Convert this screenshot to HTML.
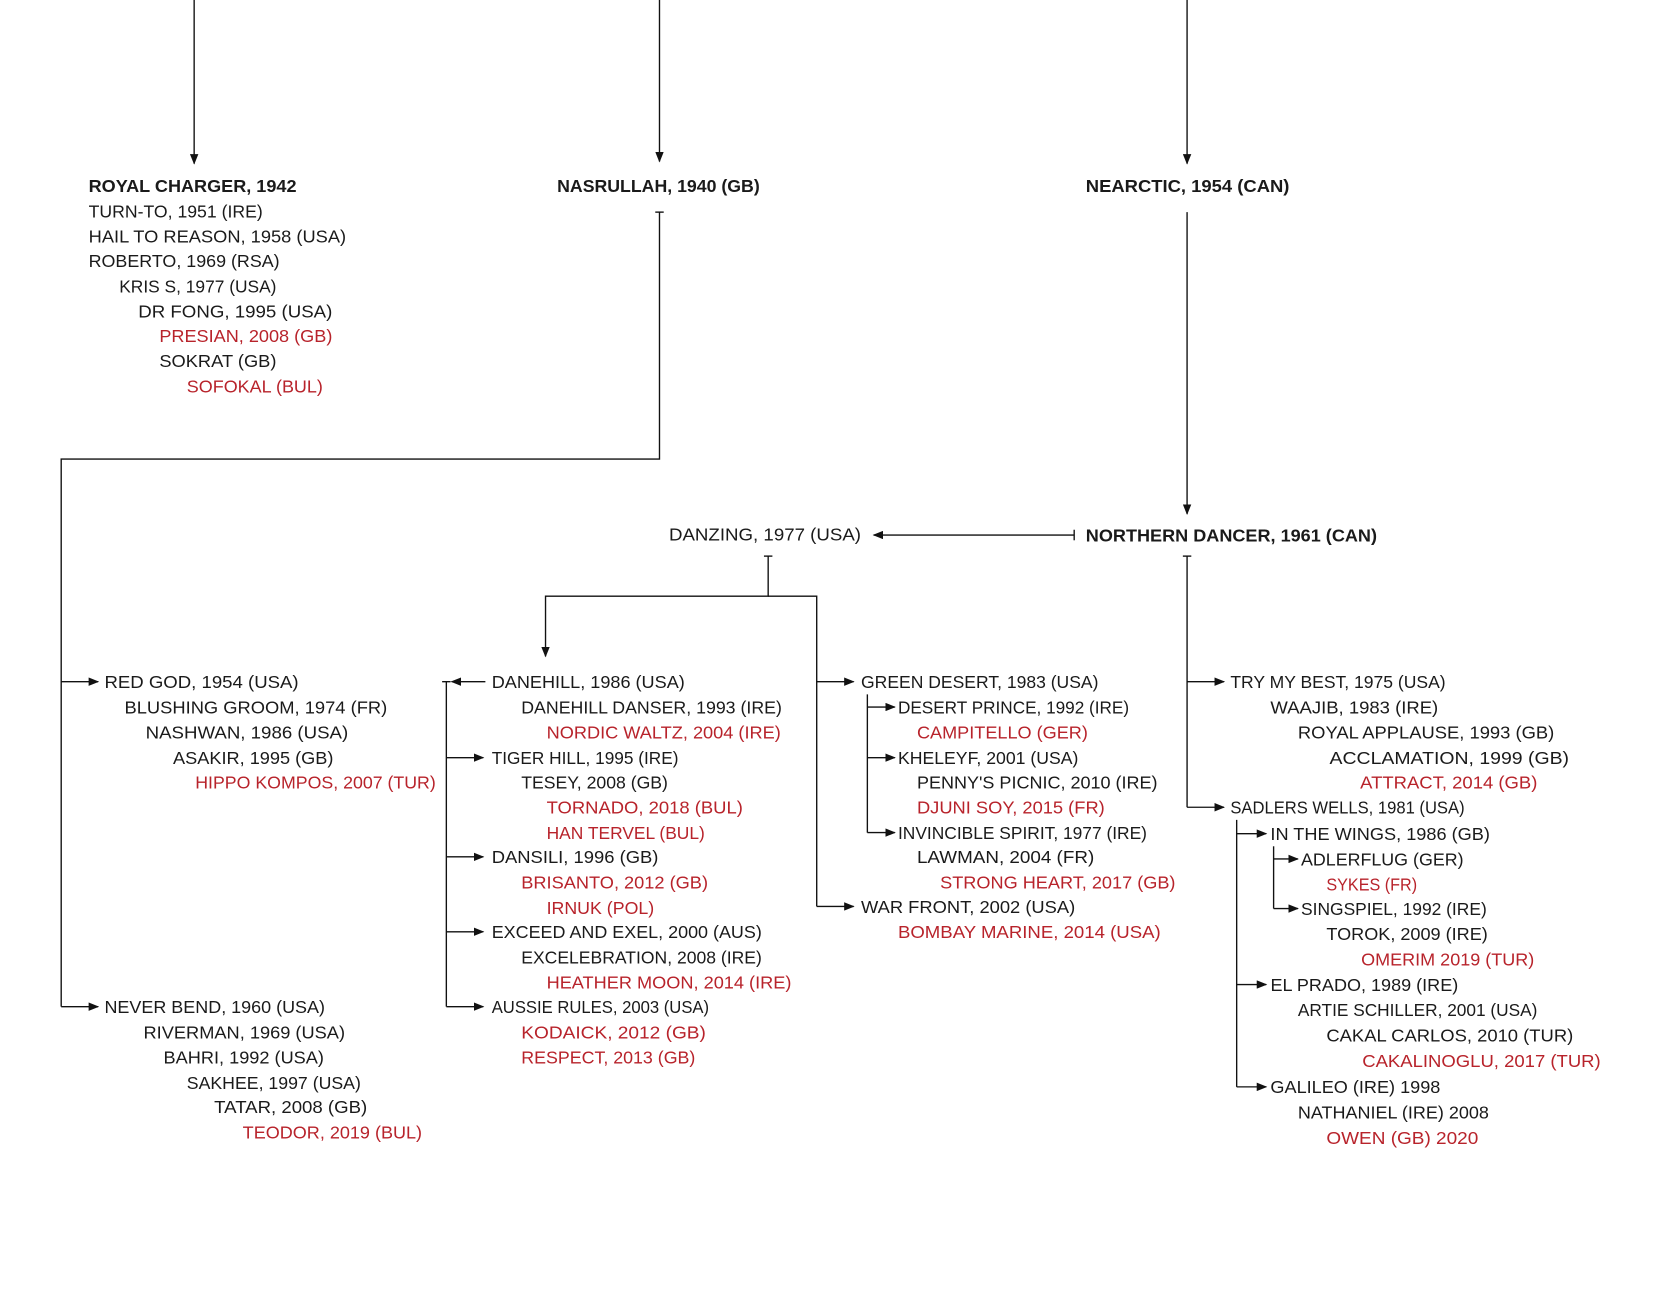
<!DOCTYPE html>
<html><head><meta charset="utf-8"><style>
html,body{margin:0;padding:0;background:#fff;}
svg{display:block}
text{font-family:"Liberation Sans",sans-serif;font-size:17px;fill:#1a1a1a;}
.b{font-weight:bold;}
.r{fill:#b8232b;}
line,polyline{stroke:#111;stroke-width:1.3;fill:none}
</style></head><body>
<svg width="1654" height="1299" viewBox="0 0 1567.5 1231" xmlns="http://www.w3.org/2000/svg">
<defs><marker id="a" markerWidth="10" markerHeight="8" refX="9" refY="4" orient="auto" markerUnits="userSpaceOnUse"><path d="M0,0 L10,4 L0,8 z" fill="#111"/></marker></defs>
<g>
<line x1="184" y1="0" x2="184" y2="155" marker-end="url(#a)"/>
<line x1="625" y1="0" x2="625" y2="153" marker-end="url(#a)"/>
<line x1="1125" y1="0" x2="1125" y2="155" marker-end="url(#a)"/>
<line x1="621" y1="201" x2="629" y2="201"/>
<polyline points="625,201 625,435 58,435 58,954"/>
<line x1="58" y1="646" x2="93" y2="646" marker-end="url(#a)"/>
<line x1="58" y1="954" x2="93" y2="954" marker-end="url(#a)"/>
<line x1="1125" y1="201" x2="1125" y2="487" marker-end="url(#a)"/>
<line x1="1018" y1="502" x2="1018" y2="512"/>
<line x1="1018" y1="507" x2="828" y2="507" marker-end="url(#a)"/>
<line x1="724" y1="527" x2="732" y2="527"/>
<polyline points="728,527 728,565 517,565 517,622" marker-end="url(#a)"/>
<polyline points="728,565 774,565 774,859"/>
<line x1="774" y1="646" x2="809" y2="646" marker-end="url(#a)"/>
<line x1="774" y1="859" x2="809" y2="859" marker-end="url(#a)"/>
<line x1="423" y1="646" x2="423" y2="954"/>
<line x1="419" y1="646" x2="427" y2="646"/>
<line x1="460" y1="646" x2="428" y2="646" marker-end="url(#a)"/>
<line x1="423" y1="718" x2="458" y2="718" marker-end="url(#a)"/>
<line x1="423" y1="812" x2="458" y2="812" marker-end="url(#a)"/>
<line x1="423" y1="883" x2="458" y2="883" marker-end="url(#a)"/>
<line x1="423" y1="954" x2="458" y2="954" marker-end="url(#a)"/>
<line x1="822" y1="658" x2="822" y2="789"/>
<line x1="822" y1="670" x2="848" y2="670" marker-end="url(#a)"/>
<line x1="822" y1="718" x2="848" y2="718" marker-end="url(#a)"/>
<line x1="822" y1="789" x2="848" y2="789" marker-end="url(#a)"/>
<line x1="1121" y1="527" x2="1129" y2="527"/>
<line x1="1125" y1="527" x2="1125" y2="765"/>
<line x1="1125" y1="646" x2="1160" y2="646" marker-end="url(#a)"/>
<line x1="1125" y1="765" x2="1160" y2="765" marker-end="url(#a)"/>
<line x1="1172" y1="777" x2="1172" y2="1030"/>
<line x1="1172" y1="790" x2="1200" y2="790" marker-end="url(#a)"/>
<line x1="1172" y1="933" x2="1200" y2="933" marker-end="url(#a)"/>
<line x1="1172" y1="1030" x2="1200" y2="1030" marker-end="url(#a)"/>
<line x1="1207" y1="802" x2="1207" y2="861"/>
<line x1="1207" y1="814" x2="1230" y2="814" marker-end="url(#a)"/>
<line x1="1207" y1="861" x2="1230" y2="861" marker-end="url(#a)"/>
</g>
<g>
<text class="b" x="84" y="182" textLength="197" lengthAdjust="spacingAndGlyphs">ROYAL CHARGER, 1942</text>
<text x="84" y="206" textLength="165" lengthAdjust="spacingAndGlyphs">TURN-TO, 1951 (IRE)</text>
<text x="84" y="230" textLength="244" lengthAdjust="spacingAndGlyphs">HAIL TO REASON, 1958 (USA)</text>
<text x="84" y="253" textLength="181" lengthAdjust="spacingAndGlyphs">ROBERTO, 1969 (RSA)</text>
<text x="113" y="277" textLength="149" lengthAdjust="spacingAndGlyphs">KRIS S, 1977 (USA)</text>
<text x="131" y="301" textLength="184" lengthAdjust="spacingAndGlyphs">DR FONG, 1995 (USA)</text>
<text class="r" x="151" y="324" textLength="164" lengthAdjust="spacingAndGlyphs">PRESIAN, 2008 (GB)</text>
<text x="151" y="348" textLength="111" lengthAdjust="spacingAndGlyphs">SOKRAT (GB)</text>
<text class="r" x="177" y="372" textLength="129" lengthAdjust="spacingAndGlyphs">SOFOKAL (BUL)</text>
<text class="b" x="528" y="182" textLength="192" lengthAdjust="spacingAndGlyphs">NASRULLAH, 1940 (GB)</text>
<text class="b" x="1029" y="182" textLength="193" lengthAdjust="spacingAndGlyphs">NEARCTIC, 1954 (CAN)</text>
<text class="b" x="1029" y="513" textLength="276" lengthAdjust="spacingAndGlyphs">NORTHERN DANCER, 1961 (CAN)</text>
<text x="634" y="512" textLength="182" lengthAdjust="spacingAndGlyphs">DANZING, 1977 (USA)</text>

<text x="99" y="652" textLength="184" lengthAdjust="spacingAndGlyphs">RED GOD, 1954 (USA)</text>
<text x="118" y="676" textLength="249" lengthAdjust="spacingAndGlyphs">BLUSHING GROOM, 1974 (FR)</text>
<text x="138" y="700" textLength="192" lengthAdjust="spacingAndGlyphs">NASHWAN, 1986 (USA)</text>
<text x="164" y="724" textLength="152" lengthAdjust="spacingAndGlyphs">ASAKIR, 1995 (GB)</text>
<text class="r" x="185" y="747" textLength="228" lengthAdjust="spacingAndGlyphs">HIPPO KOMPOS, 2007 (TUR)</text>
<text x="99" y="960" textLength="209" lengthAdjust="spacingAndGlyphs">NEVER BEND, 1960 (USA)</text>
<text x="136" y="984" textLength="191" lengthAdjust="spacingAndGlyphs">RIVERMAN, 1969 (USA)</text>
<text x="155" y="1008" textLength="152" lengthAdjust="spacingAndGlyphs">BAHRI, 1992 (USA)</text>
<text x="177" y="1032" textLength="165" lengthAdjust="spacingAndGlyphs">SAKHEE, 1997 (USA)</text>
<text x="203" y="1055" textLength="145" lengthAdjust="spacingAndGlyphs">TATAR, 2008 (GB)</text>
<text class="r" x="230" y="1079" textLength="170" lengthAdjust="spacingAndGlyphs">TEODOR, 2019 (BUL)</text>

<text x="466" y="652" textLength="183" lengthAdjust="spacingAndGlyphs">DANEHILL, 1986 (USA)</text>
<text x="494" y="676" textLength="247" lengthAdjust="spacingAndGlyphs">DANEHILL DANSER, 1993 (IRE)</text>
<text class="r" x="518" y="700" textLength="222" lengthAdjust="spacingAndGlyphs">NORDIC WALTZ, 2004 (IRE)</text>
<text x="466" y="724" textLength="177" lengthAdjust="spacingAndGlyphs">TIGER HILL, 1995 (IRE)</text>
<text x="494" y="747" textLength="139" lengthAdjust="spacingAndGlyphs">TESEY, 2008 (GB)</text>
<text class="r" x="518" y="771" textLength="186" lengthAdjust="spacingAndGlyphs">TORNADO, 2018 (BUL)</text>
<text class="r" x="518" y="795" textLength="150" lengthAdjust="spacingAndGlyphs">HAN TERVEL (BUL)</text>
<text x="466" y="818" textLength="158" lengthAdjust="spacingAndGlyphs">DANSILI, 1996 (GB)</text>
<text class="r" x="494" y="842" textLength="177" lengthAdjust="spacingAndGlyphs">BRISANTO, 2012 (GB)</text>
<text class="r" x="518" y="866" textLength="102" lengthAdjust="spacingAndGlyphs">IRNUK (POL)</text>
<text x="466" y="889" textLength="256" lengthAdjust="spacingAndGlyphs">EXCEED AND EXEL, 2000 (AUS)</text>
<text x="494" y="913" textLength="228" lengthAdjust="spacingAndGlyphs">EXCELEBRATION, 2008 (IRE)</text>
<text class="r" x="518" y="937" textLength="232" lengthAdjust="spacingAndGlyphs">HEATHER MOON, 2014 (IRE)</text>
<text x="466" y="960" textLength="206" lengthAdjust="spacingAndGlyphs">AUSSIE RULES, 2003 (USA)</text>
<text class="r" x="494" y="984" textLength="175" lengthAdjust="spacingAndGlyphs">KODAICK, 2012 (GB)</text>
<text class="r" x="494" y="1008" textLength="165" lengthAdjust="spacingAndGlyphs">RESPECT, 2013 (GB)</text>

<text x="816" y="652" textLength="225" lengthAdjust="spacingAndGlyphs">GREEN DESERT, 1983 (USA)</text>
<text x="851" y="676" textLength="219" lengthAdjust="spacingAndGlyphs">DESERT PRINCE, 1992 (IRE)</text>
<text class="r" x="869" y="700" textLength="162" lengthAdjust="spacingAndGlyphs">CAMPITELLO (GER)</text>
<text x="851" y="724" textLength="171" lengthAdjust="spacingAndGlyphs">KHELEYF, 2001 (USA)</text>
<text x="869" y="747" textLength="228" lengthAdjust="spacingAndGlyphs">PENNY'S PICNIC, 2010 (IRE)</text>
<text class="r" x="869" y="771" textLength="178" lengthAdjust="spacingAndGlyphs">DJUNI SOY, 2015 (FR)</text>
<text x="851" y="795" textLength="236" lengthAdjust="spacingAndGlyphs">INVINCIBLE SPIRIT, 1977 (IRE)</text>
<text x="869" y="818" textLength="168" lengthAdjust="spacingAndGlyphs">LAWMAN, 2004 (FR)</text>
<text class="r" x="891" y="842" textLength="223" lengthAdjust="spacingAndGlyphs">STRONG HEART, 2017 (GB)</text>
<text x="816" y="865" textLength="203" lengthAdjust="spacingAndGlyphs">WAR FRONT, 2002 (USA)</text>
<text class="r" x="851" y="889" textLength="249" lengthAdjust="spacingAndGlyphs">BOMBAY MARINE, 2014 (USA)</text>

<text x="1166" y="652" textLength="204" lengthAdjust="spacingAndGlyphs">TRY MY BEST, 1975 (USA)</text>
<text x="1204" y="676" textLength="159" lengthAdjust="spacingAndGlyphs">WAAJIB, 1983 (IRE)</text>
<text x="1230" y="700" textLength="243" lengthAdjust="spacingAndGlyphs">ROYAL APPLAUSE, 1993 (GB)</text>
<text x="1260" y="724" textLength="227" lengthAdjust="spacingAndGlyphs">ACCLAMATION, 1999 (GB)</text>
<text class="r" x="1289" y="747" textLength="168" lengthAdjust="spacingAndGlyphs">ATTRACT, 2014 (GB)</text>
<text x="1166" y="771" textLength="222" lengthAdjust="spacingAndGlyphs">SADLERS WELLS, 1981 (USA)</text>
<text x="1204" y="796" textLength="208" lengthAdjust="spacingAndGlyphs">IN THE WINGS, 1986 (GB)</text>
<text x="1233" y="820" textLength="154" lengthAdjust="spacingAndGlyphs">ADLERFLUG (GER)</text>
<text class="r" x="1257" y="844" textLength="86" lengthAdjust="spacingAndGlyphs">SYKES (FR)</text>
<text x="1233" y="867" textLength="176" lengthAdjust="spacingAndGlyphs">SINGSPIEL, 1992 (IRE)</text>
<text x="1257" y="891" textLength="153" lengthAdjust="spacingAndGlyphs">TOROK, 2009 (IRE)</text>
<text class="r" x="1290" y="915" textLength="164" lengthAdjust="spacingAndGlyphs">OMERIM 2019 (TUR)</text>
<text x="1204" y="939" textLength="178" lengthAdjust="spacingAndGlyphs">EL PRADO, 1989 (IRE)</text>
<text x="1230" y="963" textLength="227" lengthAdjust="spacingAndGlyphs">ARTIE SCHILLER, 2001 (USA)</text>
<text x="1257" y="987" textLength="234" lengthAdjust="spacingAndGlyphs">CAKAL CARLOS, 2010 (TUR)</text>
<text class="r" x="1291" y="1011" textLength="226" lengthAdjust="spacingAndGlyphs">CAKALINOGLU, 2017 (TUR)</text>
<text x="1204" y="1036" textLength="161" lengthAdjust="spacingAndGlyphs">GALILEO (IRE) 1998</text>
<text x="1230" y="1060" textLength="181" lengthAdjust="spacingAndGlyphs">NATHANIEL (IRE) 2008</text>
<text class="r" x="1257" y="1084" textLength="144" lengthAdjust="spacingAndGlyphs">OWEN (GB) 2020</text>
</g>
</svg>
</body></html>
